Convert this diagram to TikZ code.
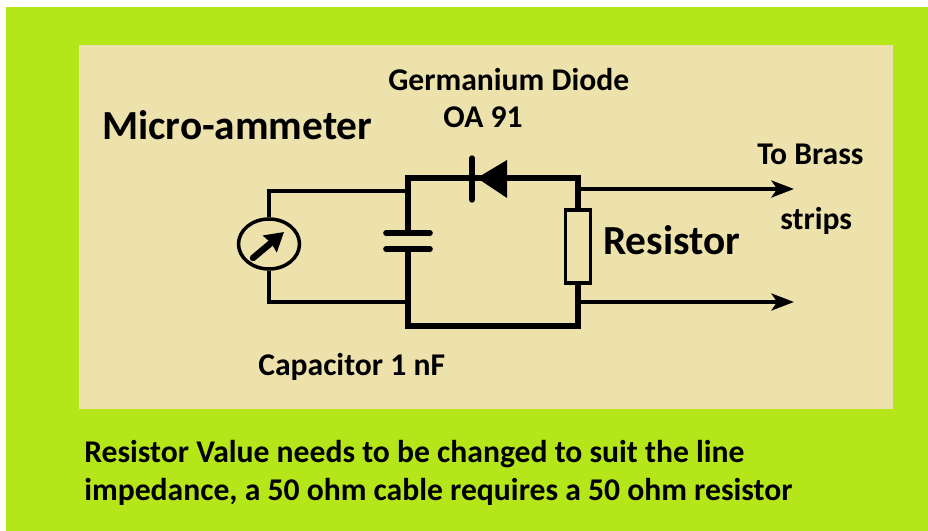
\documentclass[tikz,border=0pt]{standalone}
\usepackage{fontspec}
\setmainfont{Carlito}
\usetikzlibrary{positioning, arrows.meta, shapes.geometric}
\definecolor{limebg}{RGB}{181,230,26}
\definecolor{panelbg}{RGB}{237,226,172}
\tikzset{
    thinwire/.style={line width=2.6pt},
    thickwire/.style={line width=4pt, line cap=round},
    outwire/.style={line width=2.8pt, -{Stealth[length=16pt, width=12pt, inset=4pt]}},
    label/.style={inner sep=0pt, anchor=base west, font=\bfseries\fontsize{22.5}{27}\selectfont},
    biglabel/.style={label, font=\bfseries\fontsize{29.4}{35}\selectfont},
}
\begin{document}
\begin{tikzpicture}[x=0.025cm, y=-0.025cm]
    \useasboundingbox (0,0) rectangle (928,531);
    \fill[limebg] (6,7) rectangle (928,531);
    \fill[panelbg] (79,45) rectangle (893,409);

    % corners of the circuit
    \coordinate (TL) at (408,178);
    \coordinate (TR) at (578,178);
    \coordinate (BL) at (408,326);
    \coordinate (BR) at (578,326);
    \coordinate (MT) at (269,191);
    \coordinate (MB) at (269,302);
    \coordinate (CT) at (408,191);
    \coordinate (CB) at (408,302);
    \coordinate (OT) at (578,189);
    \coordinate (OB) at (578,302);
    \coordinate (AT) at (794,189);
    \coordinate (AB) at (794,302);

    % meter
    \node[ellipse, draw, line width=2.5pt, minimum width=61*0.711pt, minimum height=50*0.711pt, inner sep=0pt] (meter) at (269,244) {};
    \coordinate (NS) at (253,258);
    \coordinate (NE) at (284,232);
    \draw[line width=4.6pt, line cap=round, -{Stealth[length=13pt, width=15pt, inset=1pt]}] (NS) -- (NE);
    \draw[thinwire] (meter.north) -- (MT) -- (CT);
    \draw[thinwire] (meter.south) -- (MB) -- (CB);

    % capacitor
    \coordinate (P1L) at (386,233);
    \coordinate (P1R) at (430,233);
    \coordinate (P2L) at (386,249);
    \coordinate (P2R) at (430,249);
    \coordinate (P1) at (408,233);
    \coordinate (P2) at (408,249);
    \draw[thickwire] (P1L) -- (P1R);
    \draw[thickwire] (P2L) -- (P2R);

    % diode
    \coordinate (DA) at (477,178);
    \coordinate (DU) at (507,160);
    \coordinate (DL) at (507,198);
    \coordinate (BU) at (472,158);
    \coordinate (BD) at (472,200);
    \fill (DA) -- (DU) -- (DL) -- cycle;
    \draw[line width=3.8pt, line cap=round] (BU) -- (BD);

    % resistor
    \node[rectangle, draw, line width=2.8pt, minimum width=25*0.711pt, minimum height=73*0.711pt, inner sep=0pt] (res) at (578,246.5) {};

    % thick loop
    \draw[thickwire] (P1) -- (TL) -- (TR) -- (res.north);
    \draw[thickwire] (P2) -- (BL) -- (BR) -- (res.south);

    % outputs
    \draw[outwire] (OT) -- (AT);
    \draw[outwire] (OB) -- (AB);

    % labels
    \node[biglabel] (title) at (102,140) {Micro-ammeter};
    \node[label] (diode) at (388,91) {Germanium Diode};
    \node[label] (oa) at (443,128) {OA 91};
    \node[label] (brass) at (757,165) {To Brass};
    \node[label] (strips) at (780,230) {strips};
    \node[biglabel] (rlabel) at (603,255) {Resistor};
    \node[label] (cap) at (258,375) {Capacitor 1 nF};
    \node[label] (noteA) at (84,462) {Resistor Value needs to be changed to suit the line};
    \node[label] (noteB) at (84,500) {impedance, a 50 ohm cable requires a 50 ohm resistor};
\end{tikzpicture}
\end{document}
